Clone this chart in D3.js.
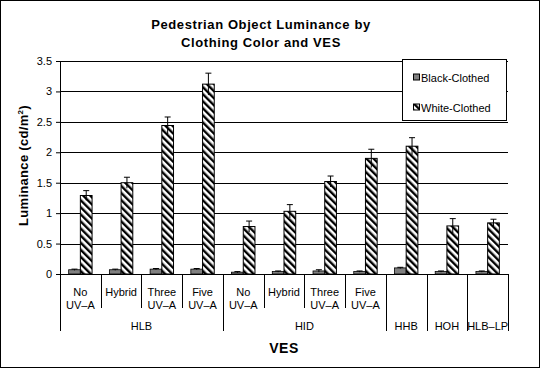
<!DOCTYPE html>
<html>
<head>
<meta charset="utf-8">
<script src="https://cdn.jsdelivr.net/npm/d3@7"></script>
<style>
  body { margin: 0; background: #fff; }
  text { font-family: Arial, "Liberation Sans", sans-serif; fill: #000; }
</style>
</head>
<body>
<svg id="chart" width="540" height="368"></svg>
<script>
// categories: sub label lines + group
const subLabels = [["No", "UV\u2013A"], ["Hybrid"], ["Three", "UV\u2013A"], ["Five", "UV\u2013A"],
                   ["No", "UV\u2013A"], ["Hybrid"], ["Three", "UV\u2013A"], ["Five", "UV\u2013A"],
                   [], [], []];
const groups = [
  {name: "HLB", start: 0, end: 4},
  {name: "HID", start: 4, end: 8},
  {name: "HHB", start: 8, end: 9},
  {name: "HOH", start: 9, end: 10},
  {name: "HLB\u2013LP", start: 10, end: 11}
];
const series = ["Black-Clothed", "White-Clothed"];
const blackVals = [0.07, 0.07, 0.08, 0.08, 0.03, 0.04, 0.05, 0.04, 0.10, 0.04, 0.04];
const blackErr  = [0.01, 0.01, 0.01, 0.01, 0.01, 0.01, 0.02, 0.01, 0.01, 0.01, 0.01];
const whiteVals = [1.29, 1.50, 2.44, 3.12, 0.78, 1.03, 1.52, 1.90, 2.10, 0.79, 0.84];
const whiteErr  = [0.08, 0.09, 0.14, 0.18, 0.09, 0.11, 0.09, 0.15, 0.14, 0.12, 0.06];
const yTicks = [0, 0.5, 1, 1.5, 2, 2.5, 3, 3.5];

const svg = d3.select("#chart");
const W = 540, H = 368;
const margin = {left: 60, right: 32, top: 61, bottom: 94};
const plotW = W - margin.left - margin.right;
const plotH = H - margin.top - margin.bottom;

// outer frame
svg.append("rect")
  .attr("x", 0.5).attr("y", 0.5)
  .attr("width", W - 1).attr("height", H - 1)
  .attr("fill", "#fff").attr("stroke", "#000");

// hatch pattern for white bars
const defs = svg.append("defs");
const pat = defs.append("pattern")
  .attr("id", "hatch")
  .attr("patternUnits", "userSpaceOnUse")
  .attr("width", 5).attr("height", 5)
  .attr("patternTransform", "rotate(-45)");
pat.append("rect").attr("width", 5).attr("height", 5).attr("fill", "#fff");
pat.append("rect").attr("width", 2.4).attr("height", 5).attr("fill", "#000");

const idx = d3.range(whiteVals.length);
const x0 = d3.scaleBand().domain(idx).range([0, plotW]).padding(0);
const x1 = d3.scaleBand().domain(series).range([0, x0.bandwidth()]).paddingInner(0).paddingOuter(0.74);
const y = d3.scaleLinear().domain([0, 3.5]).range([plotH, 0]);

const g = svg.append("g").attr("transform", `translate(${margin.left},${margin.top})`);

// gridlines
g.append("g")
  .selectAll("line")
  .data(yTicks.filter(d => d > 0))
  .join("line")
    .attr("x1", 0).attr("x2", plotW)
    .attr("y1", d => Math.round(y(d)) + 0.5).attr("y2", d => Math.round(y(d)) + 0.5)
    .attr("stroke", "#000").attr("stroke-width", 1);

// y axis
const yAxis = g.append("g")
  .call(d3.axisLeft(y).tickValues(yTicks).tickSize(4).tickPadding(4).tickFormat(d3.format("")));
yAxis.select(".domain").attr("stroke", "#000");
yAxis.selectAll("text").style("font-size", "11px");

// bars
const cat = g.selectAll(".cat")
  .data(idx)
  .join("g")
    .attr("class", "cat")
    .attr("transform", i => `translate(${x0(i)},0)`);

cat.append("rect")
  .attr("x", x1("Black-Clothed"))
  .attr("y", i => y(blackVals[i]))
  .attr("width", x1.bandwidth())
  .attr("height", i => y(0) - y(blackVals[i]))
  .attr("fill", "#808080").attr("stroke", "#000").attr("stroke-width", 0.8);

cat.append("rect")
  .attr("x", x1("White-Clothed"))
  .attr("y", i => y(whiteVals[i]))
  .attr("width", x1.bandwidth())
  .attr("height", i => y(0) - y(whiteVals[i]))
  .attr("fill", "url(#hatch)").attr("stroke", "#000").attr("stroke-width", 1);

// error bars
function errBars(vals, errs, key) {
  const cx = x1(key) + x1.bandwidth() / 2;
  cat.append("line")
    .attr("x1", cx).attr("x2", cx)
    .attr("y1", i => y(vals[i] - errs[i])).attr("y2", i => y(vals[i] + errs[i]))
    .attr("stroke", "#000").attr("stroke-width", 1);
  cat.append("line")
    .attr("x1", cx - 3).attr("x2", cx + 3)
    .attr("y1", i => y(vals[i] + errs[i])).attr("y2", i => y(vals[i] + errs[i]))
    .attr("stroke", "#000").attr("stroke-width", 1);
}
errBars(blackVals, blackErr, "Black-Clothed");
errBars(whiteVals, whiteErr, "White-Clothed");

// x axis line
g.append("line")
  .attr("x1", 0).attr("x2", plotW)
  .attr("y1", plotH + 0.5).attr("y2", plotH + 0.5)
  .attr("stroke", "#000");

// category separators
const groupEdges = new Set();
groups.forEach(gr => { groupEdges.add(gr.start); groupEdges.add(gr.end); });
g.append("g")
  .selectAll("line")
  .data(d3.range(whiteVals.length + 1))
  .join("line")
    .attr("x1", i => Math.round(i === whiteVals.length ? plotW : x0(i)) + 0.5)
    .attr("x2", i => Math.round(i === whiteVals.length ? plotW : x0(i)) + 0.5)
    .attr("y1", plotH)
    .attr("y2", i => groupEdges.has(i) ? plotH + 57 : plotH + 34)
    .attr("stroke", "#000");

// sub category labels
const lab = g.append("g").selectAll("text")
  .data(idx)
  .join("text")
    .attr("x", i => x0(i) + x0.bandwidth() / 2)
    .attr("y", plotH + 22)
    .attr("text-anchor", "middle")
    .style("font-size", "11px");
lab.selectAll("tspan")
  .data(i => subLabels[i])
  .join("tspan")
    .attr("x", function() { return d3.select(this.parentNode).attr("x"); })
    .attr("dy", (d, j) => j === 0 ? 0 : 13)
    .text(d => d);

// group labels
g.append("g").selectAll("text")
  .data(groups)
  .join("text")
    .attr("x", d => (x0(d.start) + (d.end === whiteVals.length ? plotW : x0(d.end))) / 2)
    .attr("y", plotH + 56)
    .attr("text-anchor", "middle")
    .style("font-size", "11px")
    .text(d => d.name);

// x axis title
g.append("text")
  .attr("x", plotW / 2).attr("y", plotH + 79)
  .attr("text-anchor", "middle")
  .style("font-size", "14px").style("font-weight", "bold").style("letter-spacing", "0.5px")
  .text("VES");

// y axis title
const yt = svg.append("text")
  .attr("transform", `translate(28,${margin.top + plotH / 2 - 2}) rotate(-90)`)
  .attr("text-anchor", "middle")
  .style("font-size", "13px").style("font-weight", "bold").style("letter-spacing", "0.3px");
yt.append("tspan").text("Luminance (cd/m");
yt.append("tspan").attr("dy", -5).style("font-size", "8px").text("2");
yt.append("tspan").attr("dy", 5).text(")");

// title
const title = svg.append("text")
  .attr("x", 261).attr("y", 29)
  .attr("text-anchor", "middle")
  .style("font-size", "13px").style("font-weight", "bold").style("letter-spacing", "0.6px");
title.append("tspan").attr("x", 261).text("Pedestrian Object Luminance by");
title.append("tspan").attr("x", 261).attr("dy", 18).text("Clothing Color and VES");

// legend
const leg = svg.append("g").attr("transform", "translate(402,59)");
leg.append("rect")
  .attr("x", 0.5).attr("y", 0.5).attr("width", 104).attr("height", 61)
  .attr("fill", "#fff").attr("stroke", "#000");
const legItems = leg.selectAll(".li")
  .data(series)
  .join("g")
    .attr("class", "li")
    .attr("transform", (d, i) => `translate(11,${22.5 + i * 30})`);
legItems.append("rect")
  .attr("x", 0.5).attr("y", -7.5).attr("width", 6).attr("height", 6)
  .attr("fill", (d, i) => i === 0 ? "#808080" : "url(#hatch)")
  .attr("stroke", "#000");
legItems.append("text")
  .attr("x", 8).attr("y", 0)
  .style("font-size", "11px")
  .text(d => d);
</script>
</body>
</html>
